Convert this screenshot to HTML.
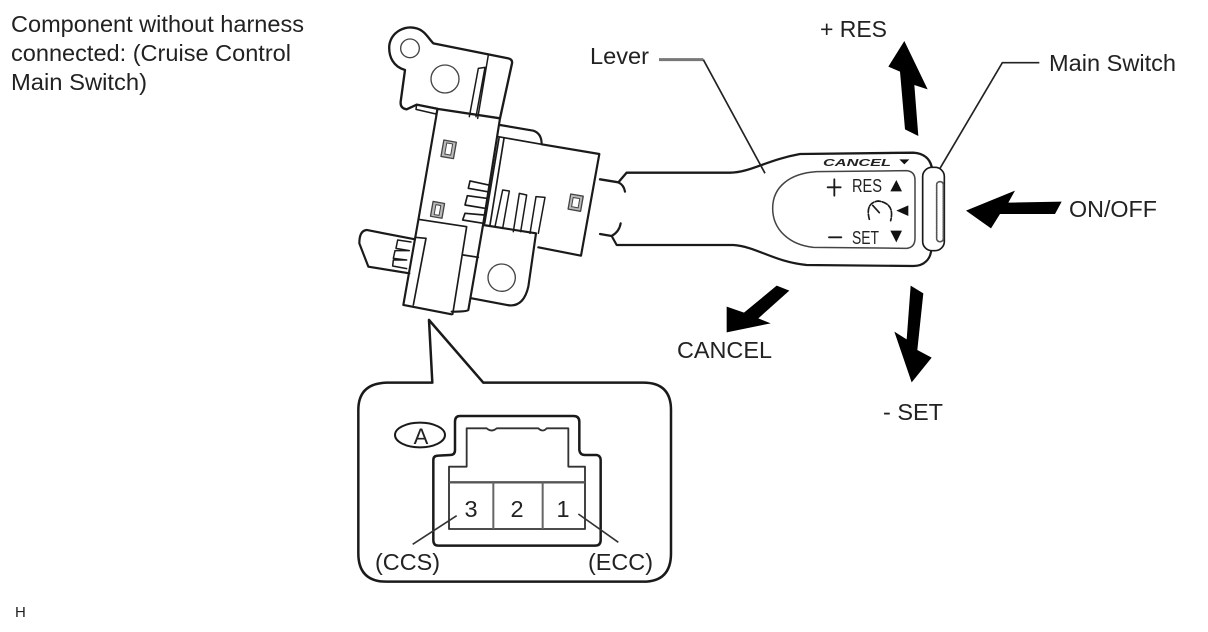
<!DOCTYPE html>
<html><head><meta charset="utf-8"><style>
html,body{margin:0;padding:0;background:#fff}
svg{display:block;filter:blur(.35px)}
text{font-family:"Liberation Sans",sans-serif;fill:#222}
</style></head><body>
<svg width="1208" height="632" viewBox="0 0 1208 632" xmlns="http://www.w3.org/2000/svg">
<rect width="1208" height="632" fill="#fff"/>
<g font-size="23.5" lengthAdjust="spacingAndGlyphs">
<text x="11" y="32" textLength="293" lengthAdjust="spacingAndGlyphs">Component without harness</text>
<text x="11" y="61" textLength="280" lengthAdjust="spacingAndGlyphs">connected: (Cruise Control</text>
<text x="11" y="90" textLength="136" lengthAdjust="spacingAndGlyphs">Main Switch)</text>
<text x="820" y="37" textLength="67" lengthAdjust="spacingAndGlyphs">+ RES</text>
<text x="590" y="64" textLength="59" lengthAdjust="spacingAndGlyphs">Lever</text>
<text x="1049" y="71" textLength="127" lengthAdjust="spacingAndGlyphs">Main Switch</text>
<text x="1069" y="217" textLength="88" lengthAdjust="spacingAndGlyphs">ON/OFF</text>
<text x="677" y="358" textLength="95" lengthAdjust="spacingAndGlyphs">CANCEL</text>
<text x="883" y="420" textLength="60" lengthAdjust="spacingAndGlyphs">- SET</text>
</g>
<text x="15" y="617" font-size="15">H</text>

<!-- switch body -->
<g transform="translate(350,10) scale(.33333)" fill="none" stroke="#1a1a1a" stroke-width="6.5" stroke-linejoin="round" stroke-linecap="round">
<path d="M165 180C130 170 115 140 118 105C125 65 165 45 200 55C225 62 235 85 250 100L475 145Q488 148 486 160L450 325L265 297L200 284L170 298Q150 295 152 275Z" stroke-width="7"/>
<circle cx="180" cy="115" r="28" stroke-width="4" stroke="#444"/>
<circle cx="285" cy="207" r="42" stroke-width="4" stroke="#444"/>
<path d="M415 135L383 325M385 175L405 172L378 320M385 175L358 320" stroke-width="4.5"/>
<path d="M200 284L262 295L258 315M200 284L198 298L258 312" stroke-width="4.5"/>
<path d="M262 300L205 630L160 885L305 913"/>
<path d="M450 325L400 640L355 900Q350 905 305 905"/>
<path d="M205 628L350 650L308 913M190 885L228 685L195 682M340 735L385 742" stroke-width="5"/>
<path d="M365 865L470 885Q520 895 535 830L558 670L400 645"/>
<circle cx="455" cy="803" r="41" stroke-width="4" stroke="#444"/>
<path d="M450 345L550 362Q575 370 575 403L748 432L693 737L565 712"/>
<path d="M445 380L575 403M462 385L420 645M447 385L404 640" stroke-width="5"/>
<path d="M435 650L458 540L478 543L458 655M490 665L508 550L530 555L512 665M540 670L558 560L585 562L565 670" stroke-width="4.5"/>
<path d="M415 525L360 513L355 535L412 545M410 565L352 557L345 585L405 595M403 615L345 610L338 630L400 640" stroke-width="5"/>
<rect x="277" y="393" width="38" height="50" transform="rotate(10 296 418)" stroke-width="4" stroke="#444" fill="#bbb"/>
<rect x="287" y="400" width="18" height="34" transform="rotate(10 296 418)" stroke-width="3" stroke="#444" fill="#fff"/>
<rect x="245" y="577" width="35" height="45" transform="rotate(10 262 600)" stroke-width="4" stroke="#444" fill="#bbb"/>
<rect x="255" y="585" width="15" height="30" transform="rotate(10 262 600)" stroke-width="3" stroke="#444" fill="#fff"/>
<rect x="658" y="555" width="38" height="46" transform="rotate(10 677 578)" stroke-width="4" stroke="#444" fill="#bbb"/>
<rect x="667" y="564" width="20" height="28" transform="rotate(10 677 578)" stroke-width="3" stroke="#444" fill="#fff"/>
<path d="M195 688L50 660Q28 662 28 700L55 770L178 790"/>
<path d="M183 696L143 690L138 715L178 722L135 722L130 745L170 750L130 750L128 768L170 776" stroke-width="4.5"/>
</g>

<!-- lever -->
<g transform="translate(600,130) scale(.33333)" fill="none" stroke="#1a1a1a" stroke-width="6.5" stroke-linecap="round" stroke-linejoin="round">
<path d="M0 148L55 157L80 128L390 128C450 128 500 90 600 72L940 68C975 70 990 90 995 110" stroke-width="7"/>
<path d="M55 157Q72 165 75 185M0 312L35 318L50 345L400 345C470 350 520 395 620 405L940 408C975 408 990 385 993 365M35 318Q58 305 62 280"/>
<path d="M650 125L920 122Q945 125 945 150L945 325Q945 352 920 355L640 352C570 345 518 300 518 235C518 170 570 130 650 125Z" stroke-width="4.5" stroke="#444"/>
<rect x="968" y="112" width="65" height="250" rx="28" stroke-width="5"/>
<rect x="1010" y="155" width="20" height="180" rx="9" stroke-width="5" stroke="#555" stroke-dasharray="4 3"/>
<path d="M683 172H722M703 148V197M687 322H724" stroke-width="5.5"/>
<path d="M889 150L906 184H871Z M925 226V258L889 242Z M871 302H906L889 337Z M898 88H928L913 103Z" fill="#111" stroke="none"/>
<path d="M808 268Q795 218 835 213Q885 220 872 272" stroke-width="5" stroke-dasharray="16 5"/>
<path d="M818 226L838 248" stroke-width="5"/>
</g>
<text x="823" y="166" font-size="10" font-style="italic" font-weight="bold" textLength="68" lengthAdjust="spacingAndGlyphs">CANCEL</text>
<text x="852" y="192" font-size="18" textLength="30" lengthAdjust="spacingAndGlyphs">RES</text>
<text x="852" y="244" font-size="18" textLength="27" lengthAdjust="spacingAndGlyphs">SET</text>

<!-- leaders -->
<g transform="translate(860,30) scale(.33333)">
<path d="M133 33L85 110L120 125L135 298L175 318L163 165L203 178Z M318 542L465 482L445 518L605 515L585 552L420 552L393 595Z" fill="#000"/>
<path d="M538 98H427L240 415" fill="none" stroke="#222" stroke-width="5"/>
</g>
<g transform="translate(670,270) scale(.33333)" fill="#000">
<path d="M320 47L358 62L265 145L302 160L170 187L170 110L222 128Z M722 47L760 70L742 240L785 263L725 337L673 185L710 208Z"/>
</g>
<g transform="translate(580,35) scale(.33333)" fill="none">
<path d="M237 74H370" stroke="#777" stroke-width="9"/>
<path d="M370 74L555 415" stroke="#222" stroke-width="5"/>
</g>

<!-- inset -->
<g transform="translate(350,310) scale(.33333)" fill="none" stroke="#1a1a1a" stroke-linejoin="round">
<path d="M237 30L247 218L110 218Q25 220 25 300L25 730Q25 815 110 815L880 815Q963 815 963 730L963 300Q963 218 880 218L400 218Z" stroke-width="7.5"/>
<path d="M250 450Q250 437 265 437L300 435Q315 435 315 420L315 335Q315 318 330 318L670 318Q688 318 688 335L688 420Q690 435 705 435L740 435Q752 437 752 450L752 690Q752 707 735 707L265 707Q250 707 250 690Z" stroke-width="7.5"/>
<path d="M297 657L297 470L350 470L350 355L410 355Q425 368 440 355L565 355Q578 368 590 355L655 355L655 470L705 470L705 657Z" stroke-width="5.5" stroke="#333"/>
<path d="M297 517H705" stroke-width="7" stroke="#555"/>
<path d="M430 517V657M578 517V657" stroke-width="6" stroke="#666"/>
<ellipse cx="210" cy="375" rx="75" ry="37" stroke-width="6"/>
<path d="M320 617L188 703M685 612L805 697" stroke-width="5" stroke="#333"/>
</g>
<g font-size="23.5">
<text x="421" y="444" font-size="22" text-anchor="middle">A</text>
<text x="471" y="517" text-anchor="middle">3</text>
<text x="517" y="517" text-anchor="middle">2</text>
<text x="563" y="517" text-anchor="middle">1</text>
<text x="375" y="570" textLength="65" lengthAdjust="spacingAndGlyphs">(CCS)</text>
<text x="588" y="570" textLength="65" lengthAdjust="spacingAndGlyphs">(ECC)</text>
</g>
</svg>
</body></html>
